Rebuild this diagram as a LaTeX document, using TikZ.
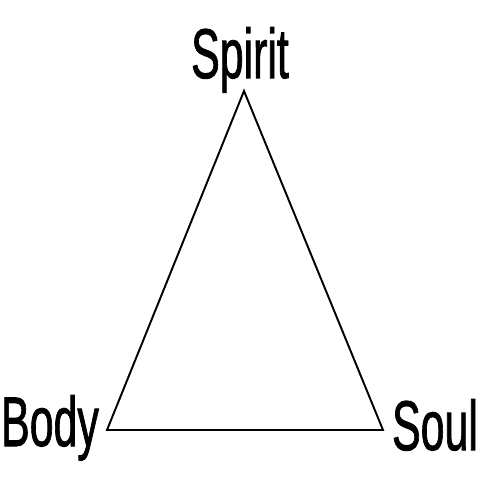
\documentclass[tikz,border=0pt]{standalone}
\usepackage{fontspec}
\setmainfont{Liberation Sans}
\newfontfamily\heavyfont[FakeBold=1.5]{Liberation Sans}
\begin{document}
\begin{tikzpicture}[x=0.02cm,y=-0.02cm,
  lbl/.style={inner sep=0pt,anchor=base,font=\heavyfont\fontsize{40}{40}\selectfont,xscale=0.61},
  edge/.style={line width=1.1pt,line join=miter}]
\useasboundingbox (0,0) rectangle (500,500);
\coordinate (top) at (244,91);
\coordinate (bl) at (107,430);
\coordinate (br) at (383,430);
\draw[edge] (top) -- (bl) -- (br) -- cycle;
\node[lbl] (spirit) at (240,78) {Spirit};
\node[lbl] (body) at (50,446) {Body};
\node[lbl] (soul) at (435,450) {Soul};
\end{tikzpicture}
\end{document}
